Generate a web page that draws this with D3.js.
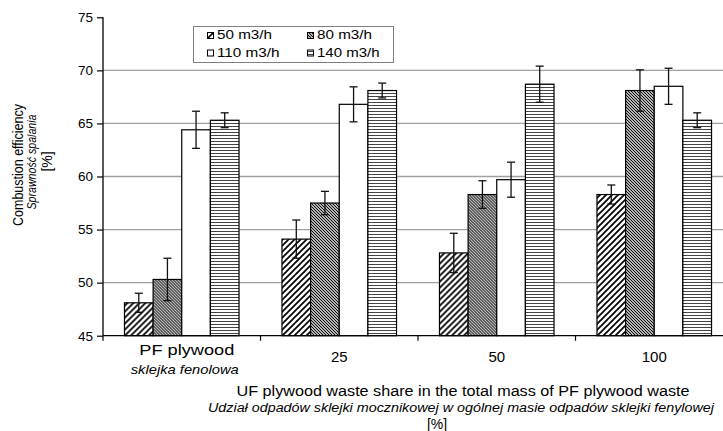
<!DOCTYPE html>
<html><head><meta charset="utf-8">
<script src="https://cdn.jsdelivr.net/npm/d3@7"></script>
<style>body{margin:0;background:#fff}svg{display:block;font-family:"Liberation Sans",Arial,sans-serif}</style>
</head><body><svg id="c" width="723" height="431"></svg>
<script>
const categories = ["PF plywood", "25", "50", "100"];
const categorySub = ["sklejka fenolowa", "", "", ""];
const series = ["50 m3/h", "80 m3/h", "110 m3/h", "140 m3/h"];
const values50  = [48.1, 54.1, 52.8, 58.3];
const values80  = [50.3, 57.5, 58.3, 68.1];
const values110 = [64.4, 66.8, 59.7, 68.5];
const values140 = [65.3, 68.1, 68.7, 65.3];
const err50  = [0.9, 1.8, 1.85, 0.9];
const err80  = [2.0, 1.1, 1.3, 1.95];
const err110 = [1.75, 1.65, 1.65, 1.7];
const err140 = [0.7, 0.7, 1.7, 0.7];
const yTicks = [45, 50, 55, 60, 65, 70, 75];
const gridTicks = [50, 55, 60, 65, 70];

const values = [values50, values80, values110, values140];
const errs = [err50, err80, err110, err140];
const fills = ["url(#p50)", "url(#p80)", "#fff", "url(#p140)"];

const svg = d3.select("#c");
svg.append("rect").attr("width", 723).attr("height", 431).attr("fill", "#fff");
const defs = svg.append("defs");
const p50 = defs.append("pattern").attr("id", "p50").attr("patternUnits", "userSpaceOnUse").attr("width", 6).attr("height", 6);
p50.append("rect").attr("width", 6).attr("height", 6).attr("fill", "#fff");
p50.append("path").attr("d", "M0,6 L6,0 M-1.5,1.5 L1.5,-1.5 M4.5,7.5 L7.5,4.5").attr("stroke", "#000").attr("stroke-width", 1.7);
const p80 = defs.append("pattern").attr("id", "p80").attr("patternUnits", "userSpaceOnUse").attr("width", 3).attr("height", 3);
p80.append("rect").attr("width", 3).attr("height", 3).attr("fill", "#fff");
p80.append("path").attr("d", "M0,0 L3,3 M-1,2 L1,4 M2,-1 L4,1").attr("stroke", "#000").attr("stroke-width", 1.1);
const p140 = defs.append("pattern").attr("id", "p140").attr("patternUnits", "userSpaceOnUse").attr("width", 4).attr("height", 3);
p140.append("rect").attr("width", 4).attr("height", 3).attr("fill", "#fff");
p140.append("rect").attr("y", 0).attr("width", 4).attr("height", 1).attr("fill", "#444");

const x0 = d3.scaleBand().domain(categories).range([103, 733]).paddingInner(1.5 / 5.5).paddingOuter(0.75 / 5.5);
const x1 = d3.scaleBand().domain(series).range([0, x0.bandwidth()]);
const y = d3.scaleLinear().domain([45, 75]).range([335.7, 17.3]);

svg.append("g").selectAll("line").data(gridTicks).join("line")
  .attr("x1", 103).attr("x2", 733).attr("y1", d => y(d)).attr("y2", d => y(d))
  .attr("stroke", "#a0a0a0").attr("stroke-width", 1.3);

const groups = svg.append("g").selectAll("g").data(categories).join("g")
  .attr("transform", d => `translate(${x0(d)},0)`);
groups.each(function (cat, ci) {
  const g = d3.select(this);
  series.forEach((s, si) => {
    const v = values[si][ci];
    g.append("rect").attr("x", x1(s)).attr("width", x1.bandwidth())
      .attr("y", y(v)).attr("height", y(45) - y(v))
      .attr("fill", fills[si]).attr("stroke", "#000").attr("stroke-width", 1.2);
  });
  series.forEach((s, si) => {
    const v = values[si][ci], e = errs[si][ci];
    const cx = x1(s) + x1.bandwidth() / 2;
    const eg = g.append("g").attr("stroke", "#111").attr("stroke-width", 1.3);
    eg.append("line").attr("x1", cx).attr("x2", cx).attr("y1", y(v + e)).attr("y2", y(v - e));
    eg.append("line").attr("x1", cx - 4).attr("x2", cx + 4).attr("y1", y(v + e)).attr("y2", y(v + e));
    eg.append("line").attr("x1", cx - 4).attr("x2", cx + 4).attr("y1", y(v - e)).attr("y2", y(v - e));
  });
});

const yAxis = svg.append("g").attr("transform", "translate(103,0)")
  .call(d3.axisLeft(y).tickValues(yTicks).tickSize(6).tickPadding(4).tickFormat(d3.format("d")));
yAxis.select(".domain").attr("stroke", "#000").attr("stroke-width", 1.3).attr("d", `M0,${y(75)}V${y(45)}`);
yAxis.selectAll(".tick line").attr("stroke", "#000").attr("stroke-width", 1.2);
yAxis.selectAll(".tick text").attr("font-size", 13.5).attr("font-family", "Liberation Sans, Arial").attr("fill", "#000");

const step = x0.step();
const bounds = [0, 1, 2, 3, 4].map(i => 103 + i * step);
svg.append("line").attr("x1", 103).attr("x2", 733).attr("y1", y(45)).attr("y2", y(45)).attr("stroke", "#000").attr("stroke-width", 1.3);
svg.append("g").selectAll("line").data(bounds).join("line")
  .attr("x1", d => d).attr("x2", d => d).attr("y1", y(45)).attr("y2", y(45) + 5)
  .attr("stroke", "#000").attr("stroke-width", 1.2);

categories.forEach((c, i) => {
  const cx = x0(c) + x0.bandwidth() / 2;
  if (categorySub[i]) {
    svg.append("text").attr("x", cx + 5).attr("y", 355).attr("text-anchor", "middle").attr("font-size", 14.5)
      .attr("textLength", 95).attr("lengthAdjust", "spacingAndGlyphs").text(c);
    svg.append("text").attr("x", cx + 3).attr("y", 374).attr("text-anchor", "middle").attr("font-size", 13)
      .attr("font-style", "italic").attr("textLength", 108).attr("lengthAdjust", "spacingAndGlyphs").text(categorySub[i]);
  } else {
    svg.append("text").attr("x", cx).attr("y", 361.5).attr("text-anchor", "middle").attr("font-size", 15).text(c);
  }
});

svg.append("text").attr("x", 463).attr("y", 396).attr("text-anchor", "middle").attr("font-size", 14)
  .attr("textLength", 453).attr("lengthAdjust", "spacingAndGlyphs").text("UF plywood waste share in the total mass of PF plywood waste");
svg.append("text").attr("x", 461).attr("y", 411.5).attr("text-anchor", "middle").attr("font-size", 12.5).attr("font-style", "italic")
  .attr("textLength", 506).attr("lengthAdjust", "spacingAndGlyphs").text("Udział odpadów sklejki mocznikowej w ogólnej masie odpadów sklejki fenylowej");
svg.append("text").attr("x", 437).attr("y", 429).attr("text-anchor", "middle").attr("font-size", 14).text("[%]");

const yt = svg.append("g").attr("text-anchor", "middle");
yt.append("text").attr("transform", "translate(22.5,165) rotate(-90)").attr("font-size", 14.5)
  .attr("textLength", 122).attr("lengthAdjust", "spacingAndGlyphs").text("Combustion efficiency");
yt.append("text").attr("transform", "translate(36,162) rotate(-90)").attr("font-size", 12.5).attr("font-style", "italic")
  .attr("textLength", 95).attr("lengthAdjust", "spacingAndGlyphs").text("Sprawność spalania");
yt.append("text").attr("transform", "translate(52,161.5) rotate(-90)").attr("font-size", 14).text("[%]");

const lg = svg.append("g");
lg.append("rect").attr("x", 193.5).attr("y", 26.5).attr("width", 200).attr("height", 36)
  .attr("fill", "#fff").attr("stroke", "#808080").attr("stroke-width", 1);
const legPos = [[207, 32], [307, 32], [207, 49.5], [307, 49.5]];
const legLen = [55, 55, 62.6, 62.6];
series.forEach((s, i) => {
  const [lx, ly] = legPos[i];
  lg.append("rect").attr("x", lx + 0.5).attr("y", ly + 0.5).attr("width", 6).attr("height", 6)
    .attr("fill", fills[i]).attr("stroke", "#000").attr("stroke-width", 1);
  lg.append("text").attr("x", lx + 10).attr("y", ly + 7).attr("font-size", 12)
    .attr("textLength", legLen[i]).attr("lengthAdjust", "spacingAndGlyphs").text(s);
});
</script></body></html>
